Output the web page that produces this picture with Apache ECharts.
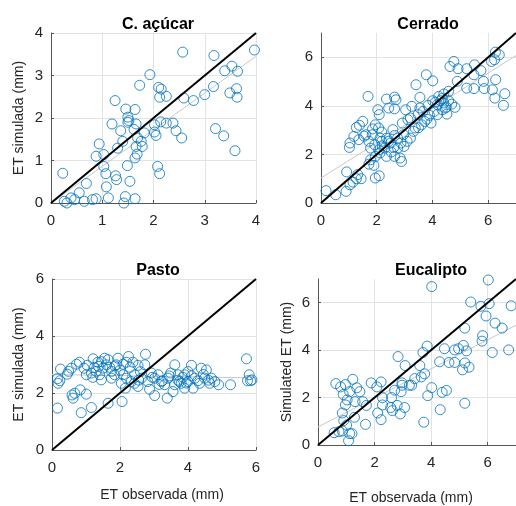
<!DOCTYPE html>
<html>
<head>
<meta charset="utf-8">
<script src="https://cdn.jsdelivr.net/npm/echarts@6/dist/echarts.min.js"></script>
<style>
  html, body { margin: 0; padding: 0; background: #fff; }
  #chart { width: 516px; height: 506px; }
</style>
</head>
<body>
<div id="chart"></div>
<script>
// panel titles and axis names
const panelTitles = ["C. açúcar", "Cerrado", "Pasto", "Eucalipto"];
const yNames = ["ET simulada (mm)", "", "ET simulada (mm)", "Simulated ET (mm)"];
const xNames = ["", "", "ET observada (mm)", "ET observada (mm)"];

const canaPts = [
  [2.57,3.55],[3.18,3.47],[3.97,3.60],[3.53,3.22],[3.39,3.11],[3.64,3.10],[1.93,3.02],[1.73,2.77],
  [2.10,2.72],[2.15,2.68],[3.17,2.74],[3.62,2.69],[3.49,2.59],[3.63,2.49],[2.12,2.49],[2.25,2.51],
  [2.59,2.47],[2.78,2.41],[3.00,2.55],[1.25,2.41],[1.46,2.21],[1.64,2.20],[1.50,2.02],[1.52,1.94],
  [1.50,1.90],[1.66,1.86],[1.19,1.86],[2.14,1.91],[2.25,1.88],[2.38,1.88],[2.02,1.84],[1.36,1.70],
  [1.62,1.73],[1.82,1.65],[2.44,1.70],[2.02,1.67],[2.05,1.59],[2.55,1.53],[3.21,1.75],[3.37,1.58],
  [3.59,1.23],[1.40,1.45],[1.69,1.53],[0.94,1.39],[1.76,1.45],[1.66,1.33],[1.78,1.33],[1.30,1.29],
  [0.88,1.10],[1.03,1.14],[1.68,1.15],[1.64,1.06],[1.03,0.86],[1.49,0.88],[2.08,0.86],[2.12,0.69],
  [1.07,0.69],[0.23,0.70],[1.26,0.64],[1.28,0.55],[1.54,0.51],[0.69,0.46],[1.08,0.38],[0.55,0.24],
  [0.39,0.12],[0.26,0.04],[0.31,0.00],[0.46,0.08],[0.65,0.04],[0.81,0.08],[0.88,0.10],[1.12,0.12],
  [1.42,0.00],[1.45,0.15],[1.64,0.10]
];
const cerradoPts = [
  [6.26,6.21],[6.40,6.10],[6.12,5.83],[6.23,5.90],[4.77,5.83],[4.63,5.62],[4.92,5.53],[5.23,5.53],
  [5.51,5.69],[5.74,5.45],[5.49,5.28],[5.83,5.01],[6.27,5.08],[4.89,5.01],[5.23,4.73],[5.49,4.71],
  [5.86,4.71],[6.15,4.66],[6.24,4.32],[6.60,4.50],[6.55,4.02],[3.78,5.28],[4.01,5.03],[3.41,4.87],
  [1.69,4.39],[2.35,4.28],[2.64,4.36],[2.69,4.25],[2.43,3.91],[2.64,3.88],[2.04,3.84],[2.09,3.64],
  [3.55,4.35],[3.26,3.98],[3.55,3.91],[3.04,3.84],[3.21,3.50],[3.49,3.64],[3.84,4.02],[4.01,4.21],
  [4.23,4.39],[4.41,4.49],[4.58,4.60],[4.18,4.05],[4.41,4.12],[4.58,4.21],[4.81,3.94],[4.06,3.77],
  [4.35,3.84],[4.52,3.66],[4.18,3.64],[3.95,3.29],[3.72,3.36],[3.61,3.22],[3.38,3.09],[3.12,3.43],
  [2.92,3.29],[3.32,2.95],[2.96,2.81],[3.09,2.54],[2.87,2.47],[2.75,2.26],[2.84,1.85],[2.89,1.71],
  [1.50,3.36],[1.38,3.20],[1.27,3.11],[1.18,2.74],[1.04,2.47],[1.02,2.29],[1.36,2.61],[1.61,2.81],
  [1.84,2.81],[1.95,3.22],[2.07,3.09],[2.18,2.92],[1.93,2.40],[2.12,2.67],[2.35,2.67],[2.58,3.02],
  [2.43,2.54],[2.29,2.26],[2.12,2.06],[1.95,1.92],[1.78,1.78],[1.72,1.60],[1.90,1.55],[2.52,2.10],
  [2.35,1.92],[2.61,2.29],[2.98,2.33],[3.21,2.67],[0.92,1.28],[1.32,1.17],[1.44,1.00],[1.27,1.00],
  [1.95,1.03],[2.09,1.12],[1.04,0.75],[0.90,0.48],[0.53,0.34],[0.18,0.51],[1.15,0.86],[3.66,3.77],
  [3.89,3.61],[4.46,3.91],[4.69,4.07],[4.29,4.21],[2.75,2.67],[2.64,2.78],[2.50,2.47],[2.18,2.54],
  [1.72,2.54],[1.78,2.26],[2.07,2.19],[2.64,1.92],[4.10,4.15],[4.35,4.30],[4.50,3.95],[3.80,3.45],
  [3.50,3.10],[2.20,2.35],[1.55,2.75],[1.85,3.05]
];
const pastoPts = [
  [0.16,1.47],[0.86,1.31],[1.16,1.49],[1.65,1.64],[2.06,1.70],[3.39,1.82],[3.02,1.91],[0.62,1.82],
  [0.67,1.99],[0.83,2.11],[1.01,1.96],[0.59,1.93],[0.18,2.34],[0.23,2.43],[0.16,2.50],[0.25,2.84],
  [0.49,2.76],[0.57,2.87],[0.81,3.08],[0.72,3.01],[0.94,2.87],[1.04,2.97],[1.21,3.20],[1.35,3.08],
  [1.55,3.22],[1.65,3.17],[1.50,2.87],[1.30,2.76],[1.75,2.76],[1.89,2.99],[2.25,3.28],[2.75,3.36],
  [2.09,3.01],[2.38,3.08],[2.53,2.97],[2.73,2.99],[1.84,2.64],[1.45,2.46],[1.75,2.52],[2.04,2.34],
  [2.19,2.52],[2.33,2.40],[2.16,2.17],[2.53,2.23],[2.82,2.40],[2.87,2.13],[3.12,2.64],[3.25,2.43],
  [3.61,2.99],[3.49,2.70],[3.75,2.40],[3.90,2.64],[4.10,2.97],[4.39,2.87],[4.54,2.81],[4.15,2.17],
  [4.00,2.40],[4.29,2.43],[4.49,2.52],[4.69,2.52],[4.90,2.29],[5.25,2.29],[5.72,3.20],[5.80,2.64],
  [5.84,2.43],[5.88,2.46],[5.75,2.43],[3.56,2.05],[3.22,2.40],[3.71,2.64],[3.61,2.29],[3.31,2.29],
  [3.02,2.52],[2.92,2.70],[2.63,2.52],[2.43,2.64],[1.16,2.70],[1.01,2.64],[1.94,3.22],[2.19,3.08],
  [1.25,2.90],[1.60,2.99],[1.37,2.93],[4.20,2.52],[4.34,2.34],[3.80,2.34],[3.41,2.52],[3.90,2.17],
  [4.00,2.75],[4.79,2.40],[4.64,2.34],[2.43,2.34],[2.09,2.64],[1.40,2.64],[0.45,2.66],[1.45,3.10],
  [1.70,2.90],[2.00,2.80],[2.30,2.90],[2.60,2.75],[3.15,2.30],[3.45,2.60],[3.70,2.45],[3.95,2.35],
  [4.10,2.60],[4.45,2.65],[4.60,2.45],[3.85,2.55],[2.55,2.45],[1.20,2.55],[1.85,2.95],[2.95,2.55]
];
const eucaPts = [
  [6.02,6.96],[4.02,6.68],[5.40,6.03],[5.76,5.85],[6.05,5.96],[6.83,5.87],[5.94,5.44],[6.26,5.14],
  [6.51,4.93],[5.19,4.93],[5.82,4.61],[5.80,4.38],[6.16,3.90],[6.74,4.01],[3.86,4.17],[3.71,3.90],
  [2.83,3.73],[3.08,3.35],[3.60,3.35],[4.47,4.06],[4.83,4.01],[4.97,4.06],[5.14,4.20],[5.25,3.97],
  [4.30,3.51],[4.63,3.48],[4.83,3.48],[5.19,3.46],[5.34,3.28],[5.11,3.17],[3.77,3.00],[3.65,2.87],
  [3.42,2.80],[3.23,2.52],[2.97,2.52],[2.71,2.31],[2.94,2.25],[4.02,2.42],[3.88,2.08],[4.39,2.22],
  [4.54,2.30],[4.32,1.49],[5.19,1.76],[3.74,0.96],[0.63,2.59],[0.80,2.45],[0.97,2.55],[1.23,2.77],
  [1.37,2.41],[1.48,2.25],[1.12,2.25],[0.89,2.13],[1.03,1.90],[1.31,1.83],[1.58,1.83],[1.71,1.67],
  [0.97,1.69],[0.86,1.35],[1.29,1.17],[0.91,1.03],[1.01,0.84],[0.86,0.59],[0.57,0.52],[1.12,0.48],
  [1.20,0.48],[1.08,0.18],[0.74,0.56],[1.68,0.87],[1.88,2.62],[2.08,2.45],[2.23,2.66],[2.28,2.00],
  [2.11,1.35],[2.23,1.07],[2.28,1.69],[2.60,2.00],[2.63,1.45],[2.80,1.67],[3.06,1.58],[2.91,1.31],
  [2.57,1.58],[3.31,2.52],[2.97,2.62]
];

// axis extents and tick steps
const axisMax = [4, 7, 6, 7];
const axisStep = [1, 2, 2, 2];

// 1:1 line and grey fitted line end points
const oneToOne = [[[0,0],[4,4]], [[0,0],[7,7]], [[0,0],[6,6]], [[0,0],[7,7]]];
const fitLines = [[[0,0],[4,3.45]], [[0,1.03],[7,6.07]], [[0,2.65],[6,2.53]], [[0,0.76],[7,5.05]]];

const allPts = [canaPts, cerradoPts, pastoPts, eucaPts];

const chart = echarts.init(document.getElementById("chart"));

const grids = [
  { left: 51, top: 33, width: 205, height: 170 },
  { left: 321, top: 33, width: 204, height: 170 },
  { left: 52, top: 279, width: 204, height: 171 },
  { left: 318, top: 279, width: 204, height: 170 }
];
const titlePos = [[153, 12], [423, 12], [153, 258], [426, 258]];
const yNameGap = [25, 25, 26, 24];
const xNameGap = [36, 36, 38, 46];

const axisColor = "#555";
const txtColor = "#262626";
const fontFam = "'Liberation Sans', Arial, sans-serif";

const xAxes = grids.map((g, i) => ({
  gridIndex: i, type: "value", min: 0, max: axisMax[i], interval: axisStep[i],
  name: xNames[i], nameLocation: "middle", nameGap: xNameGap[i],
  nameTextStyle: { color: txtColor, fontSize: 14, fontFamily: fontFam, padding: i === 2 ? [0, 0, 0, 16] : [0, 12, 0, 0] },
  axisLine: { show: true, onZero: false, lineStyle: { color: axisColor } },
  axisTick: { show: true, inside: true, length: 3, lineStyle: { color: axisColor } },
  axisLabel: { color: txtColor, fontSize: 15, fontFamily: fontFam, margin: 10, showMaxLabel: axisMax[i] % axisStep[i] === 0 },
  splitLine: { show: true, showMaxLine: axisMax[i] % axisStep[i] === 0, lineStyle: { color: "#e3e3e3" } }
}));

const yAxes = grids.map((g, i) => ({
  gridIndex: i, type: "value", min: 0, max: axisMax[i], interval: axisStep[i],
  name: yNames[i], nameLocation: "middle", nameGap: yNameGap[i],
  nameTextStyle: { color: txtColor, fontSize: 14, fontFamily: fontFam },
  axisLine: { show: true, onZero: false, lineStyle: { color: axisColor } },
  axisTick: { show: true, inside: true, length: 3, lineStyle: { color: axisColor } },
  axisLabel: { color: txtColor, fontSize: 15, fontFamily: fontFam, margin: 8, showMaxLabel: axisMax[i] % axisStep[i] === 0 },
  splitLine: { show: true, showMaxLine: axisMax[i] % axisStep[i] === 0, lineStyle: { color: "#e3e3e3" } }
}));

const series = [];
allPts.forEach((pts, i) => {
  series.push({
    type: "line", xAxisIndex: i, yAxisIndex: i, data: fitLines[i], symbol: "none",
    lineStyle: { color: "#c8c8c8", width: 1 }, silent: true, z: 1
  });
  series.push({
    type: "scatter", xAxisIndex: i, yAxisIndex: i, data: pts, symbol: "circle", symbolSize: 10,
    itemStyle: { color: "rgba(0,0,0,0)", borderColor: "#0072BD", borderWidth: 1 }, z: 2
  });
  series.push({
    type: "line", xAxisIndex: i, yAxisIndex: i, data: oneToOne[i], symbol: "none",
    lineStyle: { color: "#000", width: 2 }, silent: true, z: 3
  });
});

chart.setOption({
  animation: false,
  backgroundColor: "#fff",
  title: panelTitles.map((t, i) => ({
    text: t, left: titlePos[i][0], top: titlePos[i][1], textAlign: "center",
    textStyle: { fontSize: 16, fontWeight: "bold", color: "#000", fontFamily: fontFam }
  })),
  grid: grids,
  xAxis: xAxes,
  yAxis: yAxes,
  series: series
});
</script>
</body>
</html>
